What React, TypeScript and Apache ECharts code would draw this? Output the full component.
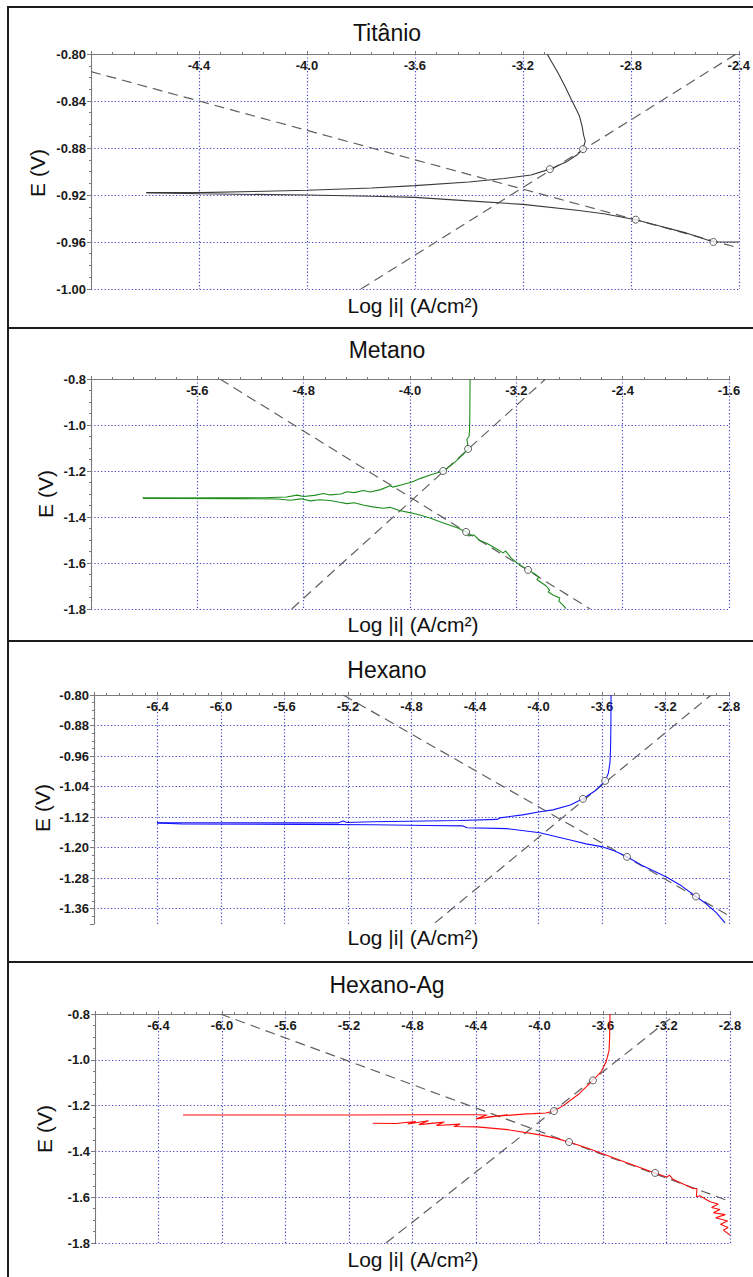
import React, { useEffect, useRef } from 'react';
import * as echarts from 'echarts';

type Pt = [number, number];

const FONT = '"Liberation Sans", Arial, Helvetica, sans-serif';

const PANEL_TITLES = ['Titânio', 'Metano', 'Hexano', 'Hexano-Ag'];
const X_AXIS_NAME = 'Log |i| (A/cm²)';
const Y_AXIS_NAME = 'E (V)';

// ---------- Titânio ----------
const titanioLogRange = [-4.8, -2.4, 0.4];
const titanioERange = [-1.0, -0.8, 0.04];
const titanioAnodic: Pt[] = [
  [-3.110, -0.800], [-3.090, -0.808], [-3.070, -0.816], [-3.045, -0.827], [-3.020, -0.839],
  [-3.000, -0.848], [-2.990, -0.853], [-2.980, -0.862], [-2.975, -0.869], [-2.969, -0.874],
  [-2.977, -0.881], [-3.000, -0.886], [-3.040, -0.892], [-3.100, -0.898], [-3.170, -0.903],
  [-3.270, -0.906], [-3.400, -0.909], [-3.600, -0.912], [-3.760, -0.914], [-4.000, -0.916],
  [-4.200, -0.917], [-4.400, -0.918], [-4.595, -0.918],
];
const titanioCathodic: Pt[] = [
  [-4.595, -0.918], [-4.400, -0.919], [-4.000, -0.920], [-3.760, -0.921], [-3.600, -0.922],
  [-3.400, -0.925], [-3.200, -0.928], [-3.000, -0.933], [-2.900, -0.936], [-2.782, -0.941],
  [-2.700, -0.946], [-2.600, -0.952], [-2.494, -0.960], [-2.450, -0.960], [-2.400, -0.960],
];
const titanioTafelCathodic: Pt[] = [[-4.8, -0.815], [-2.4, -0.965]];
const titanioTafelAnodic: Pt[] = [[-3.80, -1.0], [-2.41, -0.80]];
const titanioFitPoints: Pt[] = [[-2.977, -0.881], [-3.100, -0.898], [-2.782, -0.941], [-2.494, -0.960]];

// ---------- Metano ----------
const metanoLogRange = [-6.4, -1.6, 0.8];
const metanoERange = [-1.8, -0.8, 0.2];
const metanoAnodic: Pt[] = [
  [-3.548, -0.800], [-3.549, -0.880], [-3.550, -0.960], [-3.552, -1.020], [-3.556, -1.050],
  [-3.572, -1.062], [-3.566, -1.085], [-3.563, -1.104], [-3.600, -1.128], [-3.650, -1.155],
  [-3.700, -1.180], [-3.751, -1.200], [-3.800, -1.209], [-3.849, -1.217], [-3.920, -1.232],
  [-3.985, -1.248], [-4.060, -1.260], [-4.130, -1.270], [-4.150, -1.264], [-4.220, -1.281],
  [-4.300, -1.291], [-4.350, -1.285], [-4.420, -1.294], [-4.474, -1.290], [-4.520, -1.300],
  [-4.602, -1.304], [-4.650, -1.298], [-4.720, -1.306], [-4.800, -1.311], [-4.850, -1.305],
  [-4.930, -1.313], [-5.100, -1.316], [-5.400, -1.317], [-5.700, -1.318], [-6.010, -1.318],
];
const metanoCathodic: Pt[] = [
  [-6.010, -1.318], [-5.700, -1.319], [-5.300, -1.320], [-5.000, -1.322], [-4.900, -1.327],
  [-4.820, -1.321], [-4.750, -1.330], [-4.680, -1.325], [-4.602, -1.328], [-4.540, -1.335],
  [-4.474, -1.342], [-4.420, -1.338], [-4.353, -1.348], [-4.280, -1.356], [-4.200, -1.362],
  [-4.150, -1.358], [-4.080, -1.372], [-3.985, -1.383], [-3.920, -1.392], [-3.849, -1.404],
  [-3.780, -1.420], [-3.700, -1.436], [-3.640, -1.448], [-3.578, -1.465], [-3.560, -1.482],
  [-3.520, -1.478], [-3.480, -1.500], [-3.420, -1.515], [-3.360, -1.535], [-3.300, -1.556],
  [-3.280, -1.548], [-3.240, -1.578], [-3.195, -1.600], [-3.150, -1.617], [-3.112, -1.630],
  [-3.060, -1.648], [-3.030, -1.662], [-3.045, -1.672], [-2.975, -1.700], [-2.950, -1.718],
  [-2.960, -1.726], [-2.920, -1.740], [-2.873, -1.752], [-2.880, -1.766], [-2.850, -1.782],
  [-2.826, -1.798],
];
const metanoTafelCathodic: Pt[] = [[-5.43, -0.80], [-2.645, -1.80]];
const metanoTafelAnodic: Pt[] = [[-4.89, -1.80], [-2.98, -0.80]];
const metanoFitPoints: Pt[] = [[-3.563, -1.104], [-3.751, -1.200], [-3.578, -1.465], [-3.112, -1.630]];

// ---------- Hexano ----------
const hexanoLogRange = [-6.8, -2.8, 0.4];
const hexanoERange = [-1.40, -0.80, 0.08];
const hexanoAnodic: Pt[] = [
  [-3.543, -0.800], [-3.544, -0.880], [-3.546, -0.940], [-3.550, -0.978], [-3.560, -1.005],
  [-3.580, -1.025], [-3.640, -1.050], [-3.720, -1.072], [-3.800, -1.088], [-3.909, -1.101],
  [-3.991, -1.106], [-4.100, -1.114], [-4.243, -1.122], [-4.260, -1.126], [-4.500, -1.129],
  [-5.042, -1.132], [-5.206, -1.134], [-5.230, -1.130], [-5.260, -1.135], [-5.800, -1.135],
  [-6.403, -1.135],
];
const hexanoCathodic: Pt[] = [
  [-6.403, -1.135], [-6.246, -1.138], [-5.500, -1.139], [-5.042, -1.140], [-4.700, -1.142],
  [-4.476, -1.143], [-4.450, -1.148], [-4.200, -1.150], [-3.991, -1.161], [-3.900, -1.170],
  [-3.800, -1.180], [-3.700, -1.190], [-3.594, -1.198], [-3.520, -1.209], [-3.443, -1.224],
  [-3.350, -1.246], [-3.197, -1.276], [-3.100, -1.300], [-3.008, -1.328], [-2.950, -1.345],
  [-2.880, -1.370], [-2.825, -1.397],
];
const hexanoTafelCathodic: Pt[] = [[-5.23, -0.80], [-2.81, -1.376]];
const hexanoTafelAnodic: Pt[] = [[-4.652, -1.397], [-2.913, -0.80]];
const hexanoFitPoints: Pt[] = [[-3.580, -1.025], [-3.720, -1.072], [-3.443, -1.224], [-3.008, -1.328]];

// ---------- Hexano-Ag ----------
const hexanoAgLogRange = [-6.8, -2.8, 0.4];
const hexanoAgERange = [-1.8, -0.8, 0.2];
const hexanoAgAnodic: Pt[] = [
  [-3.556, -0.800], [-3.558, -0.900], [-3.562, -0.960], [-3.581, -1.010], [-3.610, -1.050],
  [-3.663, -1.090], [-3.750, -1.148], [-3.850, -1.200], [-3.909, -1.224], [-3.960, -1.232],
  [-4.041, -1.235], [-4.079, -1.236], [-4.330, -1.250], [-4.200, -1.240], [-4.400, -1.258],
  [-4.330, -1.241], [-4.400, -1.240], [-4.700, -1.240], [-5.200, -1.241], [-5.800, -1.241],
  [-6.246, -1.241],
];
const hexanoAgCathodic: Pt[] = [
  [-5.050, -1.277], [-4.900, -1.278], [-4.860, -1.275], [-4.780, -1.270], [-4.830, -1.280],
  [-4.700, -1.266], [-4.760, -1.283], [-4.600, -1.272], [-4.650, -1.287], [-4.500, -1.281],
  [-4.540, -1.291], [-4.394, -1.293], [-4.200, -1.305], [-3.997, -1.328], [-3.900, -1.342],
  [-3.814, -1.359], [-3.700, -1.385], [-3.581, -1.416], [-3.450, -1.450], [-3.272, -1.494],
  [-3.200, -1.512], [-3.180, -1.504], [-3.160, -1.522], [-3.033, -1.562], [-3.008, -1.562],
  [-3.012, -1.598], [-2.990, -1.594], [-2.926, -1.620], [-2.874, -1.630], [-2.916, -1.645],
  [-2.863, -1.654], [-2.905, -1.668], [-2.830, -1.676], [-2.890, -1.690], [-2.815, -1.704],
  [-2.860, -1.718], [-2.812, -1.732], [-2.842, -1.744], [-2.800, -1.765],
];
const hexanoAgTafelCathodic: Pt[] = [[-6.01, -0.80], [-2.825, -1.612]];
const hexanoAgTafelAnodic: Pt[] = [[-4.967, -1.80], [-3.14, -0.80]];
const hexanoAgFitPoints: Pt[] = [[-3.663, -1.090], [-3.909, -1.224], [-3.814, -1.359], [-3.272, -1.494]];

// ---------- assembly ----------
const panels = [
  { logRange: titanioLogRange, eRange: titanioERange, eDigits: 2, logDigits: 1, color: '#3a3a3a',
    anodic: titanioAnodic, cathodic: titanioCathodic, tafel: [titanioTafelCathodic, titanioTafelAnodic], fit: titanioFitPoints, flip: false },
  { logRange: metanoLogRange, eRange: metanoERange, eDigits: 1, logDigits: 1, color: '#1c8c1c',
    anodic: metanoAnodic, cathodic: metanoCathodic, tafel: [metanoTafelCathodic, metanoTafelAnodic], fit: metanoFitPoints, flip: false },
  { logRange: hexanoLogRange, eRange: hexanoERange, eDigits: 2, logDigits: 1, color: '#1414ff',
    anodic: hexanoAnodic, cathodic: hexanoCathodic, tafel: [hexanoTafelCathodic, hexanoTafelAnodic], fit: hexanoFitPoints, flip: true },
  { logRange: hexanoAgLogRange, eRange: hexanoAgERange, eDigits: 1, logDigits: 1, color: '#ff0a0a',
    anodic: hexanoAgAnodic, cathodic: hexanoAgCathodic, tafel: [hexanoAgTafelCathodic, hexanoAgTafelAnodic], fit: hexanoAgFitPoints, flip: false },
];

const layouts = [
  { left: 91, top: 54, width: 651, height: 235, frameTop: 7, frameBottom: 328, titleY: 33, nameY: 305, yNameX: 37, yNameY: 173 },
  { left: 91, top: 379, width: 638, height: 230, frameTop: 328, frameBottom: 641, titleY: 350, nameY: 624, yNameX: 45, yNameY: 494 },
  { left: 94, top: 695, width: 635, height: 229, frameTop: 641, frameBottom: 962, titleY: 670, nameY: 937, yNameX: 42, yNameY: 808 },
  { left: 95, top: 1014, width: 635, height: 229, frameTop: 962, frameBottom: 1290, titleY: 985, nameY: 1259, yNameX: 44, yNameY: 1129 },
];

const GRID_LINE = { color: '#4343c8', width: 1.2, type: [1.2, 2.2] as number[] };
const AXIS_GREY = '#7a7a7a';
const TICK_FONT = { fontFamily: FONT, fontSize: 13, fontWeight: 'bold' as const, color: '#1a1a1a' };

function buildOption(): echarts.EChartsOption {
  const grid: any[] = [];
  const xAxis: any[] = [];
  const yAxis: any[] = [];
  const series: any[] = [];
  const title: any[] = [];
  const graphic: any[] = [];

  panels.forEach((p, i) => {
    const L = layouts[i];
    const toY = (pts: Pt[]) => pts.map(([x, e]) => [x, p.flip ? -e : e]);

    grid.push({ left: L.left, top: L.top, width: L.width, height: L.height, containLabel: false });

    xAxis.push({
      type: 'value',
      gridIndex: i,
      position: 'top',
      min: p.logRange[0],
      max: p.logRange[1],
      interval: p.logRange[2],
      axisLine: { show: true, onZero: false, lineStyle: { color: AXIS_GREY, width: 1 } },
      axisTick: { show: true, inside: false, length: 3, lineStyle: { color: AXIS_GREY } },
      minorTick: { show: true, splitNumber: 5, length: 2, lineStyle: { color: AXIS_GREY } },
      axisLabel: {
        inside: true,
        margin: 5,
        showMinLabel: false,
        ...TICK_FONT,
        formatter: (v: number) => v.toFixed(p.logDigits),
      },
      splitLine: { show: true, lineStyle: GRID_LINE },
    });

    const yMin = p.flip ? -p.eRange[1] : p.eRange[0];
    const yMax = p.flip ? -p.eRange[0] : p.eRange[1];
    yAxis.push({
      type: 'value',
      gridIndex: i,
      position: 'left',
      inverse: p.flip,
      min: yMin,
      max: yMax,
      interval: p.eRange[2],
      axisLine: { show: true, onZero: false, lineStyle: { color: AXIS_GREY, width: 1 } },
      axisTick: { show: true, inside: false, length: 4, lineStyle: { color: AXIS_GREY } },
      minorTick: { show: true, splitNumber: 4, length: 2, lineStyle: { color: AXIS_GREY } },
      axisLabel: {
        margin: 5,
        showMaxLabel: !p.flip,
        ...TICK_FONT,
        formatter: (v: number) => (p.flip ? -v : v).toFixed(p.eDigits),
      },
      splitLine: { show: true, showMaxLine: !p.flip, lineStyle: GRID_LINE },
    });

    p.tafel.forEach((seg) => {
      series.push({
        type: 'line',
        xAxisIndex: i,
        yAxisIndex: i,
        data: toY(seg),
        showSymbol: false,
        silent: true,
        z: 2,
        lineStyle: { color: '#606060', width: 1.2, type: [10, 6] },
      });
    });

    [p.anodic, p.cathodic].forEach((branch) => {
      series.push({
        type: 'line',
        xAxisIndex: i,
        yAxisIndex: i,
        data: toY(branch),
        showSymbol: false,
        silent: true,
        z: 3,
        lineStyle: { color: p.color, width: 1.1 },
      });
    });

    series.push({
      type: 'scatter',
      xAxisIndex: i,
      yAxisIndex: i,
      data: toY(p.fit),
      symbol: 'circle',
      symbolSize: 7,
      silent: true,
      z: 4,
      itemStyle: { color: '#ffffff', borderColor: '#3a3a3a', borderWidth: 1 },
    });

    title.push({
      text: PANEL_TITLES[i],
      left: 387,
      top: L.titleY - 12,
      textAlign: 'center',
      padding: 0,
      textStyle: { fontFamily: FONT, fontSize: 23, fontWeight: 'normal', color: '#111' },
    });

    graphic.push({
      type: 'rect',
      z: 0,
      silent: true,
      shape: { x: 8, y: L.frameTop, width: 800, height: L.frameBottom - L.frameTop },
      style: { fill: 'none', stroke: '#1c1c1c', lineWidth: 2 },
    });
    graphic.push({
      type: 'text',
      x: 413,
      y: L.nameY,
      silent: true,
      style: { text: X_AXIS_NAME, font: `21px ${FONT}`, fill: '#111', align: 'center', verticalAlign: 'middle' },
    });
    graphic.push({
      type: 'text',
      x: L.yNameX,
      y: L.yNameY,
      rotation: Math.PI / 2,
      silent: true,
      style: { text: Y_AXIS_NAME, font: `21px ${FONT}`, fill: '#111', align: 'center', verticalAlign: 'middle' },
    });
  });

  return {
    animation: false,
    backgroundColor: '#ffffff',
    title,
    grid,
    xAxis,
    yAxis,
    series,
    graphic,
  };
}

export default function App() {
  const ref = useRef<HTMLDivElement>(null);

  useEffect(() => {
    if (!ref.current) return;
    const chart = echarts.init(ref.current, undefined, { renderer: 'svg' });
    chart.setOption(buildOption());
    return () => chart.dispose();
  }, []);

  return (
    <div
      ref={ref}
      style={{ position: 'absolute', left: 0, top: 0, width: 753, height: 1277 }}
    />
  );
}
